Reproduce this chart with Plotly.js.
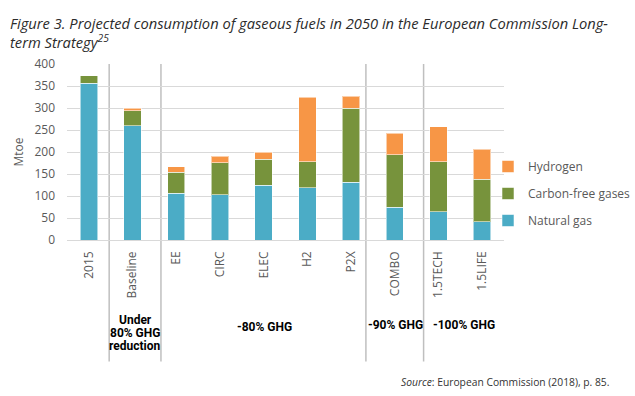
<!DOCTYPE html>
<html>
<head>
<meta charset="utf-8">
<script src="https://cdn.plot.ly/plotly-3.0.1.min.js"></script>
<style>html,body{margin:0;padding:0;background:#fff;}#chart{width:635px;height:396px;}</style>
</head>
<body>
<div id="chart"></div>
<script>
// ---- data ----
const categories = ["2015", "Baseline", "EE", "CIRC", "ELEC", "H2", "P2X", "COMBO", "1.5TECH", "1.5LIFE"];
const naturalGas = [356, 260, 106, 103, 124, 119, 131, 74, 64, 42];
const carbonFree = [17, 34, 48, 73, 60, 59, 169, 120, 114, 96];
const hydrogen   = [0, 6, 13, 14, 16, 146, 27, 49, 79, 68];
const yTicks = [0, 50, 100, 150, 200, 250, 300, 350, 400];
const groupLabels = ["Under", "80% GHG", "reduction", "-80% GHG", "-90% GHG", "-100% GHG"];

const tickFont = {family: "Open Sans, sans-serif", size: 12, color: "#595959"};
const edge = {color: "rgba(255,255,255,0.55)", width: 1};

const traces = [
  {type: "bar", name: "Natural gas", x: categories, y: naturalGas, legendrank: 3, legendgroup: "ng",
   marker: {color: "#4BACC6", line: edge}, hoverinfo: "skip"},
  {type: "bar", name: "Carbon-free gases", x: categories, y: carbonFree, legendrank: 2, legendgroup: "cf",
   marker: {color: "#77933C", line: edge}, hoverinfo: "skip"},
  {type: "bar", name: "Hydrogen", x: categories, y: hydrogen, legendrank: 1, legendgroup: "h2",
   marker: {color: "#F79646", line: edge}, hoverinfo: "skip"}
];

const sepX = [0.465, 1.65, 6.34, 7.66];
const shapes = sepX.map(v => ({
  type: "line", xref: "x", yref: "paper", x0: v, x1: v, y0: 1, y1: -0.69,
  line: {color: "#BFBFBF", width: 1.5}, layer: "below"
}));

const gFont = {family: "Roboto, sans-serif", size: 12, color: "#000"};
const annotations = [
  {xref: "x", yref: "paper", x: 1.056, y: -0.452, text: "<b>" + groupLabels[0] + "</b>"},
  {xref: "x", yref: "paper", x: 1.056, y: -0.531, text: "<b>" + groupLabels[1] + "</b>"},
  {xref: "x", yref: "paper", x: 1.056, y: -0.605, text: "<b>" + groupLabels[2] + "</b>"},
  {xref: "x", yref: "paper", x: 4.03, y: -0.492, text: "<b>" + groupLabels[3] + "</b>"},
  {xref: "x", yref: "paper", x: 7.02, y: -0.484, text: "<b>" + groupLabels[4] + "</b>"},
  {xref: "x", yref: "paper", x: 8.58, y: -0.484, text: "<b>" + groupLabels[5] + "</b>"}
].map(a => Object.assign(a, {showarrow: false, font: gFont, xanchor: "center", yanchor: "middle"}));

annotations.push({
  xref: "paper", yref: "paper", x: (611 - 67) / 437, y: (240.5 - 382) / 176,
  xanchor: "right", yanchor: "middle", showarrow: false,
  text: "<i>Source</i>: European Commission (2018), p. 85.",
  font: {family: "Open Sans, sans-serif", size: 10.3, color: "#333"}
});

annotations.push({
  xref: "paper", yref: "paper", x: (8 - 67) / 437, y: (240.5 - 11) / 176,
  xanchor: "left", yanchor: "top", align: "left", showarrow: false,
  text: "Figure 3. Projected consumption of gaseous fuels in 2050 in the European Commission Long-<br>term Strategy<sup>25</sup>",
  font: {family: "Open Sans, sans-serif", size: 14.7, color: "#2b2b2b", style: "italic"}
});

const layout = {
  width: 635, height: 396,
  margin: {l: 67, r: 131, t: 64, b: 156, pad: 0, autoexpand: false},
  paper_bgcolor: "#fff", plot_bgcolor: "#fff",
  barmode: "stack", bargap: 0.6,
  xaxis: {
    type: "category", tickangle: -90, tickfont: tickFont, showgrid: false,
    showline: false, ticks: "", zeroline: false, ticklabelstandoff: 8, automargin: false
  },
  yaxis: {
    range: [0, 400], tickvals: yTicks, tickfont: tickFont, gridcolor: "#D9D9D9", gridwidth: 1,
    zeroline: true, zerolinecolor: "#D9D9D9", zerolinewidth: 1, showline: false, ticks: "",
    ticklabelstandoff: 11, automargin: false,
    title: {text: "Mtoe", font: {family: "Open Sans, sans-serif", size: 12, color: "#595959"}, standoff: 8}
  },
  legend: {
    x: (488 - 67) / 437, xanchor: "left", y: (240.5 - 194) / 176, yanchor: "middle",
    traceorder: "grouped", tracegroupgap: 8,
    font: {family: "Open Sans, sans-serif", size: 12, color: "#595959"},
    bgcolor: "rgba(0,0,0,0)"
  },
  shapes: shapes,
  annotations: annotations
};

Plotly.newPlot("chart", traces, layout, {displayModeBar: false, staticPlot: true});
</script>
</body>
</html>
